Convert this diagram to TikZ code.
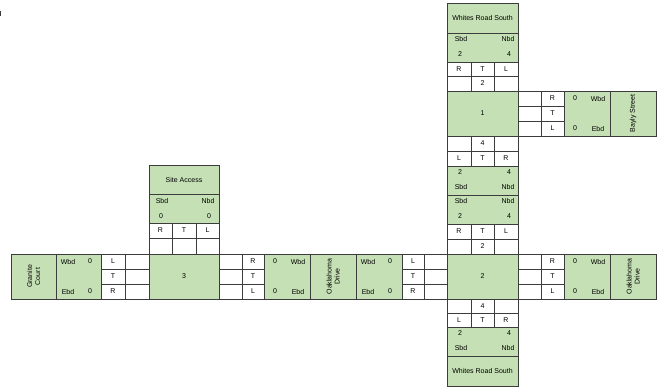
\documentclass[tikz,border=0pt]{standalone}
\usepackage{fontspec}
\setmainfont{Liberation Sans}
\definecolor{gfill}{RGB}{197,224,180}
\definecolor{lc}{RGB}{60,60,60}
\tikzset{
  cellbox/.style={draw=lc, line width=0.6pt, fill=white, inner sep=0pt, font=\fontsize{7}{8}\selectfont},
  greenbox/.style={cellbox, fill=gfill},
  txt/.style={inner sep=0pt, font=\fontsize{7}{8}\selectfont},
  vtxt/.style={txt, rotate=90, align=center},
}
\newcommand\cbox[7]{%
  \pgfmathsetmacro\mycbw{(#5)-(#3)}%
  \pgfmathsetmacro\mycbh{(#6)-(#4)}%
  \pgfmathsetmacro\mycbx{((#3)+(#5))/2}%
  \pgfmathsetmacro\mycby{((#4)+(#6))/2}%
  \node[#2, minimum width=\mycbw pt, minimum height=\mycbh pt] (#1) at (\mycbx,\mycby) {#7};}
\newcommand\trow[6]{%
  \cbox{#1a}{cellbox}{\cA}{#2}{\cB}{#3}{#4}%
  \cbox{#1b}{cellbox}{\cB}{#2}{\cC}{#3}{#5}%
  \cbox{#1c}{cellbox}{\cC}{#2}{\cD}{#3}{#6}}
\newcommand\tcol[7]{%
  \cbox{#1a}{cellbox}{#2}{#4}{#3}{#4+15}{#5}%
  \cbox{#1b}{cellbox}{#2}{#4+15}{#3}{#4+30}{#6}%
  \cbox{#1c}{cellbox}{#2}{#4+30}{#3}{#4+45}{#7}}
% right approach: prefix, top y, name
\newcommand\rapp[3]{%
  \tcol{#1e}{518}{541}{#2}{}{}{}%
  \tcol{#1m}{541}{564}{#2}{R}{T}{L}%
  \cbox{#1g}{greenbox}{564}{#2}{610}{#2+45}{}%
  \node[txt] (#1g1) at (575,#2+7.5) {0};
  \node[txt] (#1g2) at (598,#2+7.5) {Wbd};
  \node[txt] (#1g3) at (575,#2+37.5) {0};
  \node[txt] (#1g4) at (598,#2+37.5) {Ebd};
  \cbox{#1n}{greenbox}{610}{#2}{656}{#2+45}{}%
  \node[vtxt] (#1nt) at (633,#2+22.5) {#3};}
\begin{document}
\begin{tikzpicture}[x=1pt,y=-1pt]
\useasboundingbox (0,0) rectangle (664,391);
\fill[lc] (0,11) rectangle (1,16);
% ---------- Whites Road South stack ----------
\def\cA{447}\def\cB{471}\def\cC{494}\def\cD{518}
\cbox{wn1}{greenbox}{447}{3}{518}{33}{Whites Road South}
\cbox{ws1}{greenbox}{447}{33}{518}{62}{}
\node[txt] (ws1a) at (461,39) {Sbd};
\node[txt] (ws1b) at (508,39) {Nbd};
\node[txt] (ws1c) at (460,54) {2};
\node[txt] (ws1d) at (509,54) {4};
\trow{r1}{62}{76}{R}{T}{L}
\trow{r2}{76}{91}{}{2}{}
\cbox{i1}{greenbox}{447}{91}{518}{136}{1}
\trow{r3}{136}{151}{}{4}{}
\trow{r4}{151}{166}{L}{T}{R}
\cbox{g1}{greenbox}{447}{166}{518}{195}{}
\node[txt] (g1a) at (460,172) {2};
\node[txt] (g1b) at (509,172) {4};
\node[txt] (g1c) at (461,187) {Sbd};
\node[txt] (g1d) at (508,187) {Nbd};
\cbox{g2}{greenbox}{447}{195}{518}{224}{}
\node[txt] (g2a) at (461,201) {Sbd};
\node[txt] (g2b) at (508,201) {Nbd};
\node[txt] (g2c) at (460,216) {2};
\node[txt] (g2d) at (509,216) {4};
\trow{r5}{224}{239}{R}{T}{L}
\trow{r6}{239}{254}{}{2}{}
\cbox{i2}{greenbox}{447}{254}{518}{299}{2}
\trow{r7}{299}{313}{}{4}{}
\trow{r8}{313}{327}{L}{T}{R}
\cbox{g3}{greenbox}{447}{327}{518}{356}{}
\node[txt] (g3a) at (460,333) {2};
\node[txt] (g3b) at (509,333) {4};
\node[txt] (g3c) at (461,348) {Sbd};
\node[txt] (g3d) at (508,348) {Nbd};
\cbox{wn2}{greenbox}{447}{356}{518}{386}{Whites Road South}
% ---------- right approaches ----------
\rapp{ba}{91}{Bayly Street}
\rapp{ok}{254}{Oaklahoma\\Drive}
% ---------- Site Access ----------
\def\cA{149}\def\cB{172}\def\cC{196}\def\cD{219}
\cbox{san}{greenbox}{149}{165}{219}{194}{Site Access}
\cbox{sas}{greenbox}{149}{194}{219}{223}{}
\node[txt] (sasa) at (162,201) {Sbd};
\node[txt] (sasb) at (208,201) {Nbd};
\node[txt] (sasc) at (161,216) {0};
\node[txt] (sasd) at (209,216) {0};
\trow{sr1}{223}{238}{R}{T}{L}
\trow{sr2}{238}{254}{}{}{}
\cbox{i3}{greenbox}{149}{254}{219}{299}{3}
% ---------- Granite Court side ----------
\cbox{gcn}{greenbox}{11}{254}{56}{299}{}
\node[vtxt] (gcnt) at (33.5,276.5) {Granite\\Court};
\cbox{gcg}{greenbox}{56}{254}{101}{299}{}
\node[txt] (gcg1) at (68,261.5) {Wbd};
\node[txt] (gcg2) at (90,261.5) {0};
\node[txt] (gcg3) at (68,291.5) {Ebd};
\node[txt] (gcg4) at (90,291.5) {0};
\tcol{gcm}{101}{125}{254}{L}{T}{R}
\tcol{gce}{125}{149}{254}{}{}{}
% ---------- between 3 and 2 ----------
\tcol{m1e}{219}{242}{254}{}{}{}
\tcol{m1m}{242}{264}{254}{R}{T}{L}
\cbox{m1g}{greenbox}{264}{254}{310}{299}{}
\node[txt] (m1g1) at (275,261.5) {0};
\node[txt] (m1g2) at (298,261.5) {Wbd};
\node[txt] (m1g3) at (275,291.5) {0};
\node[txt] (m1g4) at (298,291.5) {Ebd};
\cbox{odn}{greenbox}{310}{254}{356}{299}{}
\node[vtxt] (odnt) at (333,276.5) {Oaklahoma\\Drive};
\cbox{m2g}{greenbox}{356}{254}{402}{299}{}
\node[txt] (m2g1) at (368,261.5) {Wbd};
\node[txt] (m2g2) at (390,261.5) {0};
\node[txt] (m2g3) at (368,291.5) {Ebd};
\node[txt] (m2g4) at (390,291.5) {0};
\tcol{m2m}{402}{424}{254}{L}{T}{R}
\tcol{m2e}{424}{447}{254}{}{}{}
\end{tikzpicture}
\end{document}
